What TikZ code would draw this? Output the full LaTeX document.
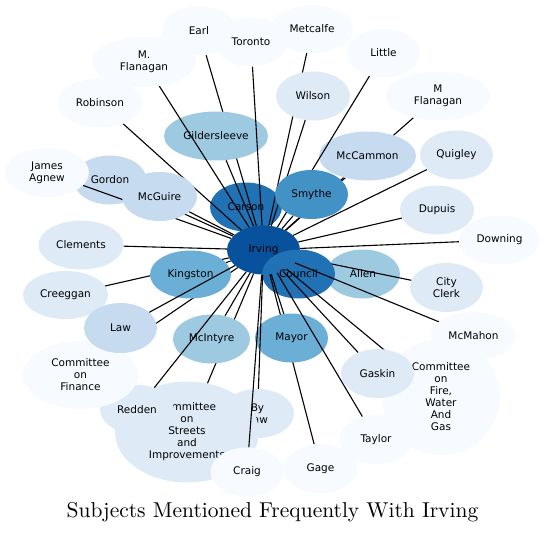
\documentclass[tikz,border=0pt]{standalone}
\usepackage{fontspec}
\newfontfamily\labelfont{DejaVu Sans}
\usetikzlibrary{shapes.geometric}
\definecolor{BlueA}{HTML}{F7FBFF}
\definecolor{BlueB}{HTML}{DEEBF7}
\definecolor{BlueC}{HTML}{C6DBEF}
\definecolor{BlueD}{HTML}{9ECAE1}
\definecolor{BlueE}{HTML}{6BAED6}
\definecolor{BlueF}{HTML}{4292C6}
\definecolor{BlueG}{HTML}{2171B5}
\definecolor{BlueH}{HTML}{08519C}
\tikzset{
  blob/.style 2 args={ellipse, inner sep=0pt, minimum width=#1, minimum height=#2,
    font=\labelfont\fontsize{10.5}{12}\selectfont, align=center, text=black},
  link/.style={draw=black, line width=1.1pt},
}
% name/x/y/width/height/colour/label, in drawing order
\newcommand{\leaflist}{%
  earl/199/31/74/49/BlueA/Earl,
  gilder/216/136/104/49/BlueD/Gildersleeve,
  toronto/251/42/72/49/BlueA/Toronto,
  mflanagandot/144/62/104/50/BlueA/{M.\\Flanagan},
  robinson/100/103/85/49/BlueA/Robinson,
  metcalfe/312/29/82/48/BlueA/Metcalfe,
  wilson/313/96/74/49/BlueB/Wilson,
  mflanagan/438/96/104/49/BlueA/{M\\Flanagan},
  mccammon/367.5/156/97/49/BlueC/McCammon,
  little/383.5/53/73/49/BlueA/Little,
  smythe/311.5/194.5/73/49/BlueF/Smythe,
  quigley/456.5/155/73/49/BlueB/Quigley,
  dupuis/437/210/74/49/BlueB/Dupuis,
  downing/499.5/240/81/49/BlueA/Downing,
  allen/363/274/74/49/BlueD/Allen,
  cityclerk/446.5/287.5/73/49/BlueB/{City\\Clerk},
  council/298.5/274/73/49/BlueG/Council,
  mcmahon/473.5/336/85/48/BlueA/McMahon,
  cofire/441/397/118/116/BlueA/{Committee\\on\\Fire,\\Water\\And\\Gas},
  gaskin/377.5/373.5/73/49/BlueB/Gaskin,
  gage/320.5/468.5/73/49/BlueA/Gage,
  mayor/291.5/338/73/49/BlueE/Mayor,
  taylor/376/439.5/73/49/BlueA/Taylor,
  bylaw/257.5/413.5/73/49/BlueB/{By\\Law},
  costreets/187/432/144/101/BlueB/{Committee\\on\\Streets\\and\\Improvements},
  mcintyre/211.5/339/77/49/BlueD/McIntyre,
  redden/137/409.5/74/49/BlueB/Redden,
  craig/247/472/73/49/BlueA/Craig,
  cofinance/80.5/375/115/68/BlueA/{Committee\\on\\Finance},
  creeggan/65.5/295/85/48/BlueB/Creeggan,
  kingston/190.5/274.5/81/48/BlueE/Kingston,
  law/120.5/328/73/50/BlueC/Law,
  clements/81/245/85/49/BlueB/Clements,
  gordon/110/180/73/49/BlueC/Gordon,
  jamesagnew/47/172.5/84/49/BlueA/{James\\Agnew},
  mcguire/159.5/196.5/75/49/BlueC/McGuire}

\begin{document}
\begin{tikzpicture}[x=1pt, y=-1pt]
  \useasboundingbox (0,0) rectangle (545,532);
  \node[blob={72}{49}, fill=BlueG] (carson) at (246,207) {Carson};
  \node[blob={73}{49}, fill=BlueH] (irving) at (263.5,250) {Irving};
  % empty shapes first, so every edge can stop at its node's rim
  \foreach \n/\x/\y/\w/\h/\c/\t in \leaflist
    \path (\x,\y) node[blob={\w}{\h}] (\n) {};
  \foreach \n/\x/\y/\w/\h/\c/\t in \leaflist {
    \draw[link] (irving) -- (\n);
    \node[blob={\w}{\h}, fill=\c] at (\n) {\t};
  }
  \node[font=\fontsize{10}{12}\selectfont, scale=2.15, transform shape,
        anchor=base, inner sep=0pt] (title) at (272.5,517)
    {Subjects Mentioned Frequently With Irving};
\end{tikzpicture}
\end{document}
